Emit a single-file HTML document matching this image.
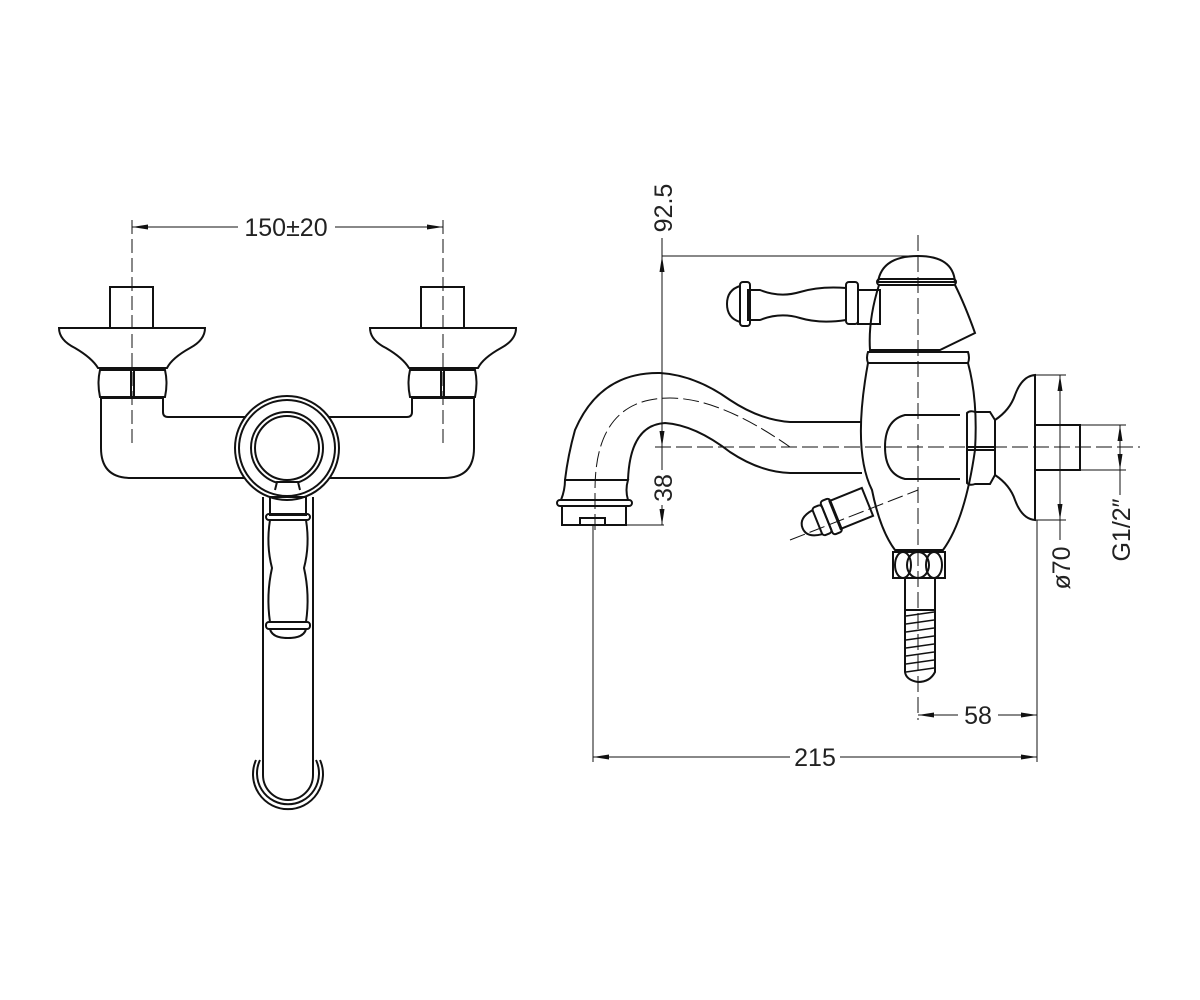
<!DOCTYPE html>
<html><head><meta charset="utf-8"><style>
html,body{margin:0;padding:0;background:#fff;}
svg{display:block;}
text{font-family:"Liberation Sans",sans-serif;fill:#222;}
</style></head><body>
<svg width="1200" height="1000" viewBox="0 0 1200 1000" xmlns="http://www.w3.org/2000/svg">
<defs>
<marker id="ar" viewBox="0 0 16 6" refX="16" refY="3" markerWidth="16" markerHeight="6" orient="auto-start-reverse" markerUnits="userSpaceOnUse"><path d="M0,0.5 L16,3 L0,5.5 z" fill="#111"/></marker>
</defs>
<g fill="none" stroke="#111" stroke-width="2">
<!-- LEFT VIEW -->
<g stroke-width="1" stroke-dasharray="14,5">
<line x1="132" y1="220" x2="132" y2="448"/><line x1="443" y1="220" x2="443" y2="448"/>
</g>
<line x1="132" y1="227" x2="238" y2="227" stroke-width="1" marker-start="url(#ar)"/>
<line x1="335" y1="227" x2="443" y2="227" stroke-width="1" marker-end="url(#ar)"/>
<rect x="110" y="287" width="43" height="41"/><rect x="421" y="287" width="43" height="41"/>
<path d="M59,328 H205 Q205,340 190,348 Q172,358 167,368 H98 Q92,358 75,348 Q59,340 59,328 Z"/>
<path d="M370,328 H516 Q516,340 501,348 Q483,358 478,368 H409 Q403,358 386,348 Q370,340 370,328 Z"/>
<path d="M100,370 H165 Q168,383 165,397 H100 Q97,383 100,370 Z"/><line x1="131" y1="370" x2="131" y2="397"/><line x1="134" y1="370" x2="134" y2="397"/>
<path d="M410,370 H475 Q478,383 475,397 H410 Q407,383 410,370 Z"/><line x1="441" y1="370" x2="441" y2="397"/><line x1="444" y1="370" x2="444" y2="397"/>
<path d="M101,398 V448 Q101,478 131,478 H444 Q474,478 474,448 V398 H412 V412 Q412,417 407,417 H168 Q163,417 163,412 V398 Z"/>
<circle cx="287" cy="448" r="52" fill="#fff"/><circle cx="287" cy="448" r="48"/><circle cx="287" cy="448" r="36"/><circle cx="287" cy="448" r="32"/>
<path d="M263,497 V775 A25,25 0 0 0 313,775 V497" />
<path d="M260,760 A31,31 0 1 0 316,760"/><path d="M256,760 A35,35 0 1 0 320,760"/>
<path d="M275,490 L277,482 H298 L300,490" fill="#fff"/>
<path d="M270,497 H306 V515 H270 Z"/>
<rect x="266" y="514" width="44" height="6" rx="3"/>
<path d="M270,520 Q266,545 272,568 Q266,595 270,622 H306 Q310,595 304,568 Q310,545 306,520"/>
<rect x="266" y="622" width="44" height="7" rx="3"/>
<path d="M270,629 Q272,638 288,638 Q304,638 306,629"/>

<!-- RIGHT VIEW -->
<g stroke-width="1">
<line x1="662" y1="256" x2="918" y2="256"/>
<line x1="662" y1="238" x2="662" y2="256"/>
<line x1="662" y1="256" x2="662" y2="447" marker-start="url(#ar)" marker-end="url(#ar)"/>
<line x1="662" y1="447" x2="662" y2="470"/>
<line x1="662" y1="505" x2="662" y2="525" marker-end="url(#ar)"/>
<line x1="615" y1="525" x2="664" y2="525"/>
<line x1="593" y1="525" x2="593" y2="762"/>
<line x1="1037" y1="520" x2="1037" y2="762"/>
<line x1="593" y1="757" x2="790" y2="757" marker-start="url(#ar)"/>
<line x1="840" y1="757" x2="1037" y2="757" marker-end="url(#ar)"/>
<line x1="918" y1="715" x2="958" y2="715" marker-start="url(#ar)"/>
<line x1="998" y1="715" x2="1037" y2="715" marker-end="url(#ar)"/>
<line x1="1035" y1="375" x2="1066" y2="375"/><line x1="1035" y1="520" x2="1066" y2="520"/>
<line x1="1060" y1="375" x2="1060" y2="520" marker-start="url(#ar)" marker-end="url(#ar)"/>
<line x1="1060" y1="520" x2="1060" y2="540"/>
<line x1="1080" y1="425" x2="1126" y2="425"/><line x1="1080" y1="470" x2="1126" y2="470"/>
<line x1="1120" y1="425" x2="1120" y2="470" marker-start="url(#ar)" marker-end="url(#ar)"/>
<line x1="1120" y1="470" x2="1120" y2="495"/>
<g stroke-dasharray="16,5">
<line x1="918" y1="235" x2="918" y2="720"/>
<line x1="655" y1="447" x2="1140" y2="447"/>
<path d="M595,530 V490 Q595,398 670,398 Q720,398 790,447"/>
<line x1="790" y1="540" x2="918" y2="490"/>
</g>
</g>
<path d="M878,282 Q882,256 918,256 Q953,256 955,282 Z"/>
<rect x="877" y="279" width="79" height="6" rx="3"/>
<path d="M879,285 Q868,320 870,350 H940 L975,333 Q965,305 955,285"/>
<rect x="858" y="290" width="22" height="34"/>
<rect x="846" y="282" width="12" height="42" rx="3"/>
<path d="M846,288 Q820,286 800,292 Q780,298 760,290 H748 V320 H760 Q780,312 800,318 Q820,324 846,320"/>
<rect x="740" y="282" width="10" height="44" rx="3"/>
<path d="M740,286 Q727,290 727,304 Q727,318 740,322"/>
<path d="M868,352 H968 Q970,358 968,363 H868 Q866,358 868,352 Z"/>
<path d="M868,363 Q852,450 872,490 Q880,530 895,550 H943 Q965,520 975,450 Q978,400 968,363"/>
<path d="M960,415 H905 Q885,420 885,447 Q885,474 905,479 H960"/>
<path d="M967,413 Q970,410 975,412 H990 L995,420 V475 L990,484 H975 Q970,486 967,483 Z"/>
<line x1="968" y1="447" x2="995" y2="447"/><line x1="968" y1="450" x2="995" y2="450"/>
<path d="M995,420 Q1010,410 1015,395 Q1022,376 1035,375 V520 Q1022,519 1015,500 Q1010,485 995,475"/>
<rect x="1035" y="425" width="45" height="45"/>
<path d="M862,422 H790 Q760,420 730,400 Q695,375 660,373 Q600,372 575,430 Q568,455 565,480"/>
<path d="M862,473 H790 Q760,472 730,452 Q695,425 665,423 Q630,425 628,480"/>
<path d="M565,480 H628 Q625,490 628,500 H561 Q565,490 565,480 Z"/>
<rect x="557" y="500" width="75" height="6" rx="3"/>
<rect x="562" y="506" width="64" height="19"/>
<rect x="580" y="518" width="25" height="7"/>
<g transform="rotate(-22 835 515)">
<rect x="835" y="500" width="35" height="30"/>
<rect x="826" y="497" width="10" height="36" rx="3"/>
<rect x="816" y="500" width="10" height="30" rx="3"/>
<path d="M816,502 Q800,504 800,515 Q800,526 816,528"/>
</g>
<path d="M893,552 H945 V578 H893 Z"/>
<ellipse cx="903" cy="565" rx="8" ry="13"/><ellipse cx="918" cy="565" rx="11" ry="13"/><ellipse cx="934" cy="565" rx="8" ry="13"/>
<rect x="905" y="578" width="30" height="32"/>
<path d="M905,610 H935 V672 Q930,682 918,682 Q906,680 905,672 Z"/>
<g stroke-width="1.5">
<path d="M906,616 L934,612 M906,624 L934,620 M906,632 L934,628 M906,640 L934,636 M906,648 L934,644 M906,656 L934,652 M906,664 L934,660 M906,672 L934,668"/>
</g>
</g>
<text x="286" y="236" font-size="25" text-anchor="middle">150±20</text>
<text x="978" y="724" font-size="25" text-anchor="middle">58</text>
<text x="815" y="766" font-size="25" text-anchor="middle">215</text>
<text transform="translate(672,208) rotate(-90)" font-size="25" text-anchor="middle">92.5</text>
<text transform="translate(672,488) rotate(-90)" font-size="25" text-anchor="middle">38</text>
<text transform="translate(1070,568) rotate(-90)" font-size="25" text-anchor="middle">ø70</text>
<text transform="translate(1130,530) rotate(-90)" font-size="25" text-anchor="middle">G1/2″</text>
</svg>
</body></html>
